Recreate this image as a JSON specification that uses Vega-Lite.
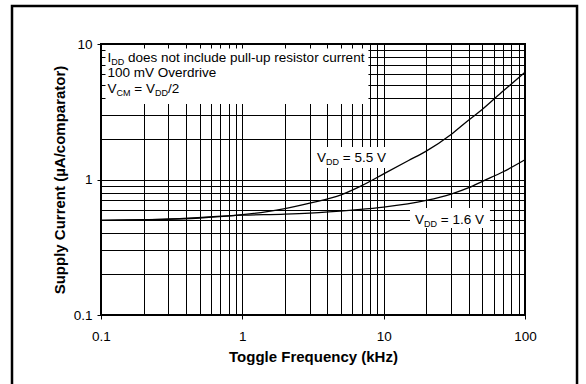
{
  "$schema": "https://vega.github.io/schema/vega-lite/v6.json",
  "width": 424,
  "height": 271,
  "autosize": {"type": "none"},
  "padding": {"left": 101, "top": 44, "right": 61, "bottom": 69},
  "background": "white",
  "data": {"values": [{}]},
  "config": {
    "font": "Liberation Sans",
    "view": {"stroke": "black", "strokeWidth": 2},
    "axis": {
      "domain": false,
      "grid": true,
      "gridColor": "black",
      "gridWidth": 1,
      "gridOpacity": 1,
      "tickSize": 4,
      "tickWidth": 1,
      "labelFont": "Liberation Sans",
      "labelFontSize": 13.5,
      "labelColor": "black",
      "labelOverlap": false,
      "labelFlush": false,
      "titleFont": "Liberation Sans",
      "titleFontSize": 15,
      "titleFontWeight": "bold",
      "titleColor": "black"
    }
  },
  "datasets": {
    "curves": [
      {"freq": 0.1, "current": 0.50, "series": "5.5V"},
      {"freq": 0.2, "current": 0.505, "series": "5.5V"},
      {"freq": 0.5, "current": 0.52, "series": "5.5V"},
      {"freq": 1, "current": 0.55, "series": "5.5V"},
      {"freq": 1.5, "current": 0.58, "series": "5.5V"},
      {"freq": 2, "current": 0.61, "series": "5.5V"},
      {"freq": 3, "current": 0.67, "series": "5.5V"},
      {"freq": 5, "current": 0.77, "series": "5.5V"},
      {"freq": 7, "current": 0.9, "series": "5.5V"},
      {"freq": 10, "current": 1.1, "series": "5.5V"},
      {"freq": 15, "current": 1.38, "series": "5.5V"},
      {"freq": 20, "current": 1.62, "series": "5.5V"},
      {"freq": 30, "current": 2.15, "series": "5.5V"},
      {"freq": 40, "current": 2.75, "series": "5.5V"},
      {"freq": 50, "current": 3.3, "series": "5.5V"},
      {"freq": 70, "current": 4.5, "series": "5.5V"},
      {"freq": 100, "current": 6.2, "series": "5.5V"},
      {"freq": 0.1, "current": 0.50, "series": "1.6V"},
      {"freq": 0.3, "current": 0.51, "series": "1.6V"},
      {"freq": 1, "current": 0.545, "series": "1.6V"},
      {"freq": 2, "current": 0.555, "series": "1.6V"},
      {"freq": 3, "current": 0.565, "series": "1.6V"},
      {"freq": 6, "current": 0.595, "series": "1.6V"},
      {"freq": 10, "current": 0.625, "series": "1.6V"},
      {"freq": 20, "current": 0.70, "series": "1.6V"},
      {"freq": 30, "current": 0.78, "series": "1.6V"},
      {"freq": 40, "current": 0.87, "series": "1.6V"},
      {"freq": 50, "current": 0.97, "series": "1.6V"},
      {"freq": 70, "current": 1.14, "series": "1.6V"},
      {"freq": 100, "current": 1.40, "series": "1.6V"}
    ]
  },
  "layer": [
    {
      "data": {"name": "curves"},
      "mark": {"type": "line", "color": "black", "strokeWidth": 1.3, "interpolate": "monotone"},
      "encoding": {
        "x": {
          "field": "freq",
          "type": "quantitative",
          "scale": {"type": "log", "domain": [0.1, 100], "nice": false},
          "axis": {
            "title": "Toggle Frequency (kHz)",
            "values": [0.1, 0.2, 0.3, 0.4, 0.5, 0.6, 0.7, 0.8, 0.9, 1, 2, 3, 4, 5, 6, 7, 8, 9, 10, 20, 30, 40, 50, 60, 70, 80, 90, 100],
            "labelExpr": "datum.value == 0.1 ? '0.1' : datum.value == 1 ? '1' : datum.value == 10 ? '10' : datum.value == 100 ? '100' : ''",
            "tickColor": {"condition": {"test": "datum.value == 0.1 || datum.value == 1 || datum.value == 10 || datum.value == 100", "value": "black"}, "value": "transparent"},
            "labelPadding": 10,
            "titlePadding": 7
          }
        },
        "y": {
          "field": "current",
          "type": "quantitative",
          "scale": {"type": "log", "domain": [0.1, 10], "nice": false},
          "axis": {
            "title": "Supply Current (µA/comparator)",
            "values": [0.1, 0.2, 0.3, 0.4, 0.5, 0.6, 0.7, 0.8, 0.9, 1, 2, 3, 4, 5, 6, 7, 8, 9, 10],
            "labelExpr": "datum.value == 0.1 ? '0.1' : datum.value == 1 ? '1' : datum.value == 10 ? '10' : ''",
            "tickColor": {"condition": {"test": "datum.value == 0.1 || datum.value == 1 || datum.value == 10", "value": "black"}, "value": "transparent"},
            "labelPadding": 5,
            "titlePadding": 6
          }
        },
        "detail": {"field": "series"}
      }
    },
    {
      "mark": {"type": "rect", "fill": "white", "strokeWidth": 0},
      "encoding": {
        "x": {"datum": 0.1076, "type": "quantitative"},
        "x2": {"datum": 7.8},
        "y": {"datum": 9.26, "type": "quantitative"},
        "y2": {"datum": 3.61}
      }
    },
    {
      "mark": {"type": "rect", "fill": "white", "strokeWidth": 0},
      "encoding": {
        "x": {"datum": 3.16, "type": "quantitative"},
        "x2": {"datum": 10.8},
        "y": {"datum": 1.738, "type": "quantitative"},
        "y2": {"datum": 1.216}
      }
    },
    {
      "mark": {"type": "rect", "fill": "white", "strokeWidth": 0},
      "encoding": {
        "x": {"datum": 15.36, "type": "quantitative"},
        "x2": {"datum": 56.5},
        "y": {"datum": 0.616, "type": "quantitative"},
        "y2": {"datum": 0.4385}
      }
    },
    {
      "mark": {"type": "rect", "fill": "transparent", "stroke": "black", "strokeWidth": 2.5, "clip": false},
      "encoding": {
        "x": {"datum": 0.02346, "type": "quantitative"},
        "x2": {"datum": 233.4},
        "y": {"datum": 19.07, "type": "quantitative"},
        "y2": {"datum": 0.028}
      }
    },
    {
      "mark": {"type": "text", "text": "I", "align": "left", "baseline": "alphabetic", "fontSize": 13.5, "color": "black"},
      "encoding": {"x": {"datum": 0.1112, "type": "quantitative"}, "y": {"datum": 7.36, "type": "quantitative"}}
    },
    {
      "mark": {"type": "text", "text": "DD", "align": "left", "baseline": "alphabetic", "fontSize": 9, "dx": 3.75, "dy": 3, "color": "black"},
      "encoding": {"x": {"datum": 0.1112, "type": "quantitative"}, "y": {"datum": 7.36, "type": "quantitative"}}
    },
    {
      "mark": {"type": "text", "text": "does not include pull-up resistor current", "align": "left", "baseline": "alphabetic", "fontSize": 13.5, "dx": 20.5, "color": "black"},
      "encoding": {"x": {"datum": 0.1112, "type": "quantitative"}, "y": {"datum": 7.36, "type": "quantitative"}}
    },
    {
      "mark": {"type": "text", "text": "100 mV Overdrive", "align": "left", "baseline": "alphabetic", "fontSize": 13.5, "color": "black"},
      "encoding": {"x": {"datum": 0.1112, "type": "quantitative"}, "y": {"datum": 5.66, "type": "quantitative"}}
    },
    {
      "mark": {"type": "text", "text": "V", "align": "left", "baseline": "alphabetic", "fontSize": 13.5, "color": "black"},
      "encoding": {"x": {"datum": 0.1112, "type": "quantitative"}, "y": {"datum": 4.35, "type": "quantitative"}}
    },
    {
      "mark": {"type": "text", "text": "CM", "align": "left", "baseline": "alphabetic", "fontSize": 9, "dx": 9, "dy": 3, "color": "black"},
      "encoding": {"x": {"datum": 0.1112, "type": "quantitative"}, "y": {"datum": 4.35, "type": "quantitative"}}
    },
    {
      "mark": {"type": "text", "text": "= V", "align": "left", "baseline": "alphabetic", "fontSize": 13.5, "dx": 26.75, "color": "black"},
      "encoding": {"x": {"datum": 0.1112, "type": "quantitative"}, "y": {"datum": 4.35, "type": "quantitative"}}
    },
    {
      "mark": {"type": "text", "text": "DD", "align": "left", "baseline": "alphabetic", "fontSize": 9, "dx": 47.4, "dy": 3, "color": "black"},
      "encoding": {"x": {"datum": 0.1112, "type": "quantitative"}, "y": {"datum": 4.35, "type": "quantitative"}}
    },
    {
      "mark": {"type": "text", "text": "/2", "align": "left", "baseline": "alphabetic", "fontSize": 13.5, "dx": 60.4, "color": "black"},
      "encoding": {"x": {"datum": 0.1112, "type": "quantitative"}, "y": {"datum": 4.35, "type": "quantitative"}}
    },
    {
      "mark": {"type": "text", "text": "V", "align": "left", "baseline": "alphabetic", "fontSize": 13.5, "color": "black"},
      "encoding": {"x": {"datum": 3.376, "type": "quantitative"}, "y": {"datum": 1.346, "type": "quantitative"}}
    },
    {
      "mark": {"type": "text", "text": "DD", "align": "left", "baseline": "alphabetic", "fontSize": 9, "dx": 9, "dy": 3, "color": "black"},
      "encoding": {"x": {"datum": 3.376, "type": "quantitative"}, "y": {"datum": 1.346, "type": "quantitative"}}
    },
    {
      "mark": {"type": "text", "text": "= 5.5 V", "align": "left", "baseline": "alphabetic", "fontSize": 13.5, "dx": 25.75, "color": "black"},
      "encoding": {"x": {"datum": 3.376, "type": "quantitative"}, "y": {"datum": 1.346, "type": "quantitative"}}
    },
    {
      "mark": {"type": "text", "text": "V", "align": "left", "baseline": "alphabetic", "fontSize": 13.5, "color": "black"},
      "encoding": {"x": {"datum": 16.67, "type": "quantitative"}, "y": {"datum": 0.473, "type": "quantitative"}}
    },
    {
      "mark": {"type": "text", "text": "DD", "align": "left", "baseline": "alphabetic", "fontSize": 9, "dx": 9, "dy": 3, "color": "black"},
      "encoding": {"x": {"datum": 16.67, "type": "quantitative"}, "y": {"datum": 0.473, "type": "quantitative"}}
    },
    {
      "mark": {"type": "text", "text": "= 1.6 V", "align": "left", "baseline": "alphabetic", "fontSize": 13.5, "dx": 25.75, "color": "black"},
      "encoding": {"x": {"datum": 16.67, "type": "quantitative"}, "y": {"datum": 0.473, "type": "quantitative"}}
    }
  ]
}
